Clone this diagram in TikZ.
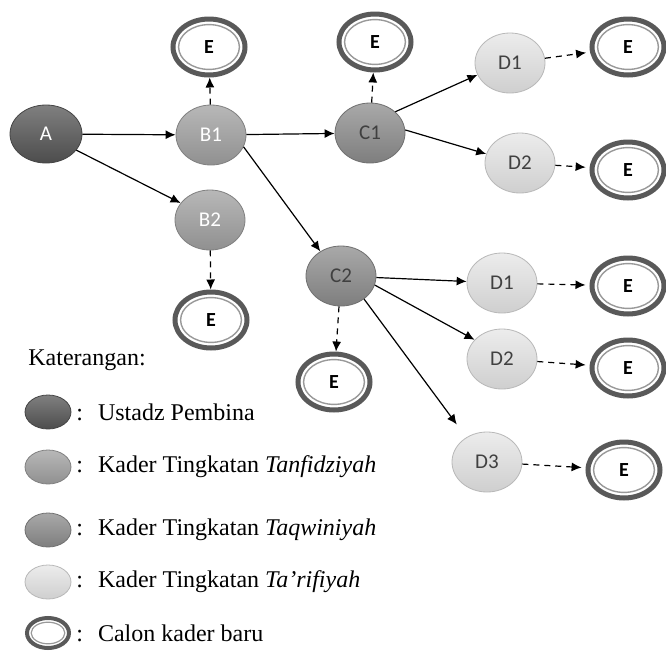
\documentclass[tikz,border=0pt]{standalone}
\usepackage{fontspec}
\setmainfont{Liberation Serif}
\newfontfamily\lblfont{Carlito}
\usetikzlibrary{arrows.meta,shapes.geometric}
\definecolor{pembina}{HTML}{555555}
\definecolor{tanfidz}{HTML}{A0A0A0}
\definecolor{taqwin}{HTML}{8C8C8C}
\definecolor{tarif}{HTML}{E6E6E6}
\tikzset{
	kader/.style={ellipse,minimum width=35pt,minimum height=30pt,inner sep=0pt,draw=#1!80!black,line width=0.4pt,
		top color=#1!75!white,bottom color=#1!90!black,font=\lblfont\fontsize{10.5}{11}\selectfont},
	calon/.style={ellipse,minimum width=36pt,minimum height=28pt,inner sep=0pt,draw=black!65,line width=2.5pt,fill=white,
		font=\lblfont\bfseries\fontsize{10}{11}\selectfont,
		path picture={\draw[black!40,line width=0.7pt] (path picture bounding box.center) ellipse (15.2pt and 11.2pt);}},
	lgkader/.style={ellipse,minimum width=23pt,minimum height=17pt,inner sep=0pt,draw=#1!80!black,line width=0.4pt,
		top color=#1!75!white,bottom color=#1!90!black},
	lgcalon/.style={ellipse,minimum width=21pt,minimum height=15pt,inner sep=0pt,draw=black!65,line width=2pt,fill=white,
		path picture={\draw[black!40,line width=0.6pt] (path picture bounding box.center) ellipse (8.4pt and 5.4pt);}},
	panah/.style={-{Latex[length=5pt,width=4.5pt]},line width=0.6pt},
	putus/.style={-{Latex[length=5pt,width=4.5pt]},line width=0.6pt,dash pattern=on 3pt off 2.5pt},
	ket/.style={anchor=west,inner sep=0pt,font=\fontsize{12}{14}\selectfont}
}
\begin{document}
\begin{tikzpicture}[x=0.5pt,y=-0.5pt]
		\useasboundingbox (0,0) rectangle (666,654);
		% kader
		\node[kader=pembina,text=white,minimum width=36pt,minimum height=29pt] (A) at (46,134) {A};
		\node[kader=tanfidz,text=white] (B1) at (211,135) {B1};
		\node[kader=tanfidz,text=white] (B2) at (210,220) {B2};
		\node[kader=taqwin,text=black!75] (C1) at (370,133) {C1};
		\node[kader=taqwin,text=black!75] (C2) at (341,276) {C2};
		\node[kader=tarif,text=black!75] (D1a) at (510,63) {D1};
		\node[kader=tarif,text=black!75] (D2a) at (520,163) {D2};
		\node[kader=tarif,text=black!75] (D1b) at (502,283) {D1};
		\node[kader=tarif,text=black!75] (D2b) at (502,359) {D2};
		\node[kader=tarif,text=black!75] (D3) at (487,462) {D3};
		% calon kader
		\node[calon] (EB1) at (209,47) {E};
		\node[calon] (EB2) at (211,320) {E};
		\node[calon] (EC1) at (375,42) {E};
		\node[calon] (EC2) at (334,382) {E};
		\node[calon] (ED1a) at (628,47) {E};
		\node[calon] (ED2a) at (628,170) {E};
		\node[calon] (ED1b) at (628,286) {E};
		\node[calon] (ED2b) at (628,368) {E};
		\node[calon] (ED3) at (624,470) {E};
		% panah
		\draw[panah] (A) -- (B1);
		\draw[panah] (A.-28) -- (B2.150);
		\draw[panah] (B1) -- (C1);
		\draw[panah] (B1.-20) -- (C2.130);
		\draw[panah] (C1.40) -- (D1a.200);
		\draw[panah] (C1.5) -- (D2a.165);
		\draw[panah] (C2) -- (D1b);
		\draw[panah] (C2.-15) -- (D2b.145);
		\draw[panah,shorten >=8pt] (C2.-45) -- (D3.130);
		\draw[putus] (B1) -- (EB1);
		\draw[putus] (B2) -- (EB2);
		\draw[putus] (C1) -- (EC1);
		\draw[putus] (C2) -- (EC2);
		\draw[putus,shorten >=2pt] (D1a) -- (ED1a);
		\draw[putus,shorten >=2pt] (D2a) -- (ED2a);
		\draw[putus,shorten >=2pt] (D1b) -- (ED1b);
		\draw[putus,shorten >=2pt] (D2b) -- (ED2b);
		\draw[putus,shorten >=2pt] (D3) -- (ED3);
		% keterangan
		\node[ket] (judul) at (28,360) {Katerangan:};
		\node[lgkader=pembina] (L1) at (48,412) {};
		\node[lgkader=tanfidz] (L2) at (48,467) {};
		\node[lgkader=taqwin] (L3) at (48,530) {};
		\node[lgkader=tarif] (L4) at (48,582) {};
		\node[lgcalon] (L5) at (48,633) {};
		\node[ket] (T1) at (76,412) {:\hspace{7.5pt}Ustadz Pembina};
		\node[ket] (T2) at (76,467) {:\hspace{7.5pt}Kader Tingkatan \textit{Tanfidziyah}};
		\node[ket] (T3) at (76,530) {:\hspace{7.5pt}Kader Tingkatan \textit{Taqwiniyah}};
		\node[ket] (T4) at (76,582) {:\hspace{7.5pt}Kader Tingkatan \textit{Ta'rifiyah}};
		\node[ket] (T5) at (76,633) {:\hspace{7.5pt}Calon kader baru};
	\end{tikzpicture}
\end{document}
